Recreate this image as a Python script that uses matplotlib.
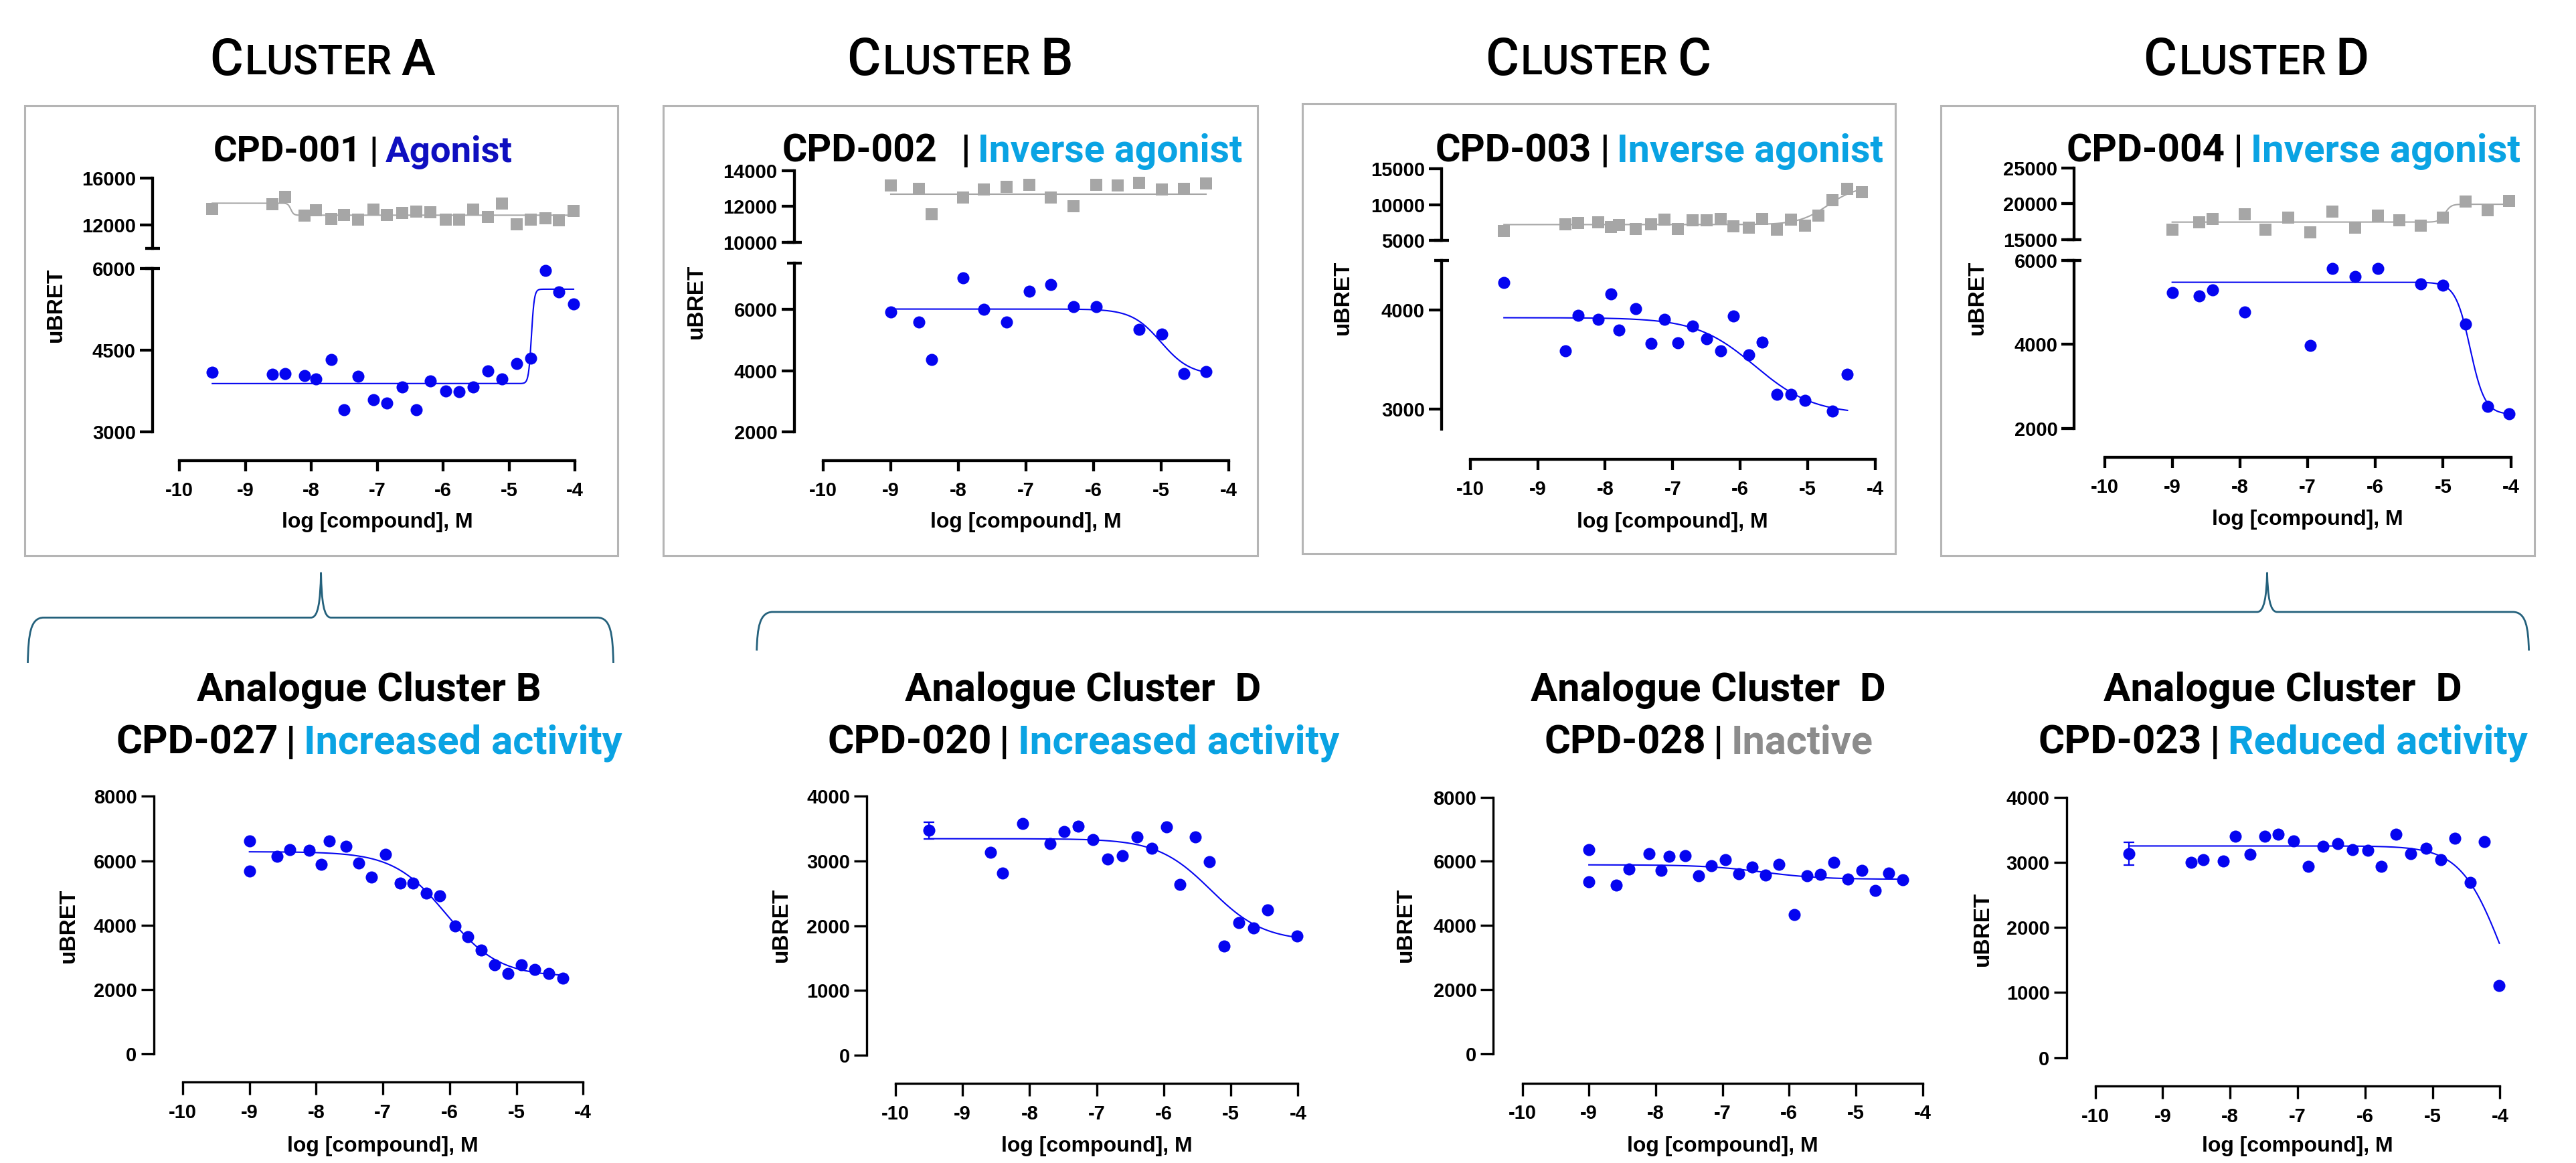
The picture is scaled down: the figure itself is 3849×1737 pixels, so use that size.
import numpy as np
import matplotlib
matplotlib.use("Agg")
import matplotlib.pyplot as plt
from matplotlib.path import Path
from matplotlib.patches import PathPatch, Rectangle

W, H = 3849, 1737
PT = 0.72  # points per pixel at dpi 100

BLUE = "#0505f0"
GRAY = "#a6a6a6"
CYAN = "#0aa3e3"
NAVY = "#0f0fc0"
INACT = "#8c8c8c"
BOX = "#b5b5b5"
BRACE = "#24617c"
HEAD = "Roboto"
AXF = "Liberation Sans"

# ---------------- data (log [compound], uBRET) ----------------
# Cluster A - CPD-001
x_a = [-9.50, -8.59, -8.40, -8.10, -7.93, -7.70, -7.50, -7.29, -7.06, -6.85, -6.62, -6.41,
       -6.19, -5.96, -5.76, -5.54, -5.32, -5.11, -4.88, -4.67, -4.45, -4.24, -4.02]
blue_a = [4100, 4053, 4067, 4033, 3967, 4333, 3400, 4020, 3587, 3533, 3820, 3400,
          3933, 3747, 3733, 3820, 4120, 3967, 4253, 4347, 5967, 5567, 5347]
xg_a = x_a
gray_a = [13385, 13785, 14370, 12770, 13230, 12520, 12860, 12430, 13290, 12860, 13015, 13140,
          13080, 12460, 12460, 13290, 12710, 13815, 12060, 12460, 12550, 12370, 13200]

# Cluster B - CPD-002
x_b = [-9.00, -8.58, -8.40, -7.93, -7.62, -7.29, -6.95, -6.63, -6.30, -5.96, -5.32, -4.99, -4.66, -4.33]
blue_b = [5916, 5593, 4359, 7030, 6000, 5593, 6599, 6814, 6096, 6096, 5341, 5198, 3904, 3976]
xg_b = [-9.00, -8.58, -8.40, -7.93, -7.62, -7.29, -6.95, -6.63, -6.30, -5.96, -5.64, -5.32, -4.99, -4.66, -4.33]
gray_b = [13172, 12970, 11576, 12485, 12929, 13091, 13192, 12485, 12020, 13192, 13172, 13333, 12929, 12990, 13293]

# Cluster C - CPD-003
x_c = [-9.50, -8.585, -8.40, -8.10, -7.92, -7.80, -7.55, -7.32, -7.12, -6.92, -6.71, -6.50,
       -6.29, -6.10, -5.87, -5.67, -5.46, -5.25, -5.04, -4.63, -4.41]
blue_c = [4282, 3593, 3952, 3908, 4165, 3799, 4015, 3663, 3908, 3674, 3842, 3714,
          3593, 3945, 3553, 3681, 3150, 3150, 3088, 2985, 3352]
xg_c = [-9.50, -8.585, -8.40, -8.10, -7.92, -7.80, -7.55, -7.32, -7.12, -6.92, -6.71, -6.50,
        -6.29, -6.10, -5.87, -5.67, -5.46, -5.25, -5.04, -4.84, -4.63, -4.41, -4.20]
gray_c = [6320, 7284, 7386, 7538, 6827, 7132, 6624, 7234, 7893, 6624, 7792, 7792,
          7944, 6980, 6777, 7944, 6523, 7893, 7030, 8503, 10584, 12208, 11700]

# Cluster D - CPD-004
x_d = [-9.00, -8.60, -8.40, -7.93, -6.96, -6.63, -6.30, -5.96, -5.33, -5.00, -4.67, -4.34, -4.02]
blue_d = [5238, 5160, 5290, 4771, 3965, 5810, 5610, 5810, 5446, 5411, 4485, 2519, 2346]
xg_d = [-9.00, -8.60, -8.40, -7.93, -7.62, -7.29, -6.96, -6.63, -6.30, -5.96, -5.65, -5.33,
        -5.00, -4.67, -4.34, -4.02]
gray_d = [16421, 17437, 17843, 18553, 16371, 18046, 15964, 18909, 16624, 18299, 17690, 16929,
          18046, 20330, 19061, 20431]

# Analogues
x_e = [-9.00, -9.00, -8.59, -8.40, -8.10, -7.92, -7.80, -7.55, -7.36, -7.17, -6.96, -6.74,
       -6.55, -6.35, -6.15, -5.92, -5.73, -5.53, -5.33, -5.13, -4.92, -4.72, -4.51, -4.30]
blue_e = [6624, 5682, 6141, 6353, 6329, 5882, 6612, 6447, 5918, 5494, 6200, 5294,
          5294, 5000, 4918, 3965, 3647, 3224, 2765, 2506, 2765, 2612, 2494, 2353]

x_f = [-9.50, -8.58, -8.40, -8.10, -7.70, -7.49, -7.28, -7.06, -6.84, -6.62, -6.40, -6.18,
       -5.96, -5.76, -5.53, -5.32, -5.10, -4.88, -4.66, -4.45, -4.01]
blue_f = [3473, 3133, 2811, 3584, 3268, 3455, 3543, 3327, 3034, 3080, 3368, 3198,
          3531, 2641, 3373, 2987, 1681, 2044, 1962, 2249, 1845]
err_f = [129] + [0] * 20

x_g = [-9.00, -9.00, -8.59, -8.40, -8.10, -7.92, -7.80, -7.56, -7.36, -7.17, -6.95, -6.75,
       -6.55, -6.35, -6.15, -5.92, -5.73, -5.53, -5.33, -5.12, -4.91, -4.71, -4.51, -4.30]
blue_g = [6372, 5357, 5263, 5758, 6230, 5723, 6159, 6171, 5558, 5853, 6053, 5605,
          5829, 5569, 5912, 4330, 5546, 5593, 5959, 5440, 5723, 5086, 5640, 5416]

x_h = [-9.50, -8.58, -8.40, -8.10, -7.92, -7.70, -7.49, -7.29, -7.06, -6.84, -6.62, -6.41,
       -6.19, -5.96, -5.76, -5.54, -5.32, -5.10, -4.88, -4.67, -4.44, -4.23, -4.01]
blue_h = [3128, 2994, 3035, 3023, 3401, 3116, 3401, 3430, 3326, 2936, 3244, 3285,
          3198, 3186, 2936, 3430, 3128, 3215, 3035, 3372, 2686, 3320, 1105]
err_h = [175] + [0] * 22

# fitted curves: (bottom, top, logEC50, hill)
fit_blue = [(3887, 5620, -4.66, 20), (3850, 6010, -5.0, -2.0),
            (2950, 3925, -5.78, -1.0), (2330, 5480, -4.60, -4.0)]
fit_gray = [(12830, 13850, -8.31, -20), (12690, 12690, -6.0, -1.0),
            (7200, 12600, -4.70, 2.0), (17437, 19930, -4.97, 10)]
fit_bot = [(2400, 6280, -6.05, -1.1), (1760, 3345, -5.30, -1.1),
           (5440, 5890, -6.40, -1.0), (0, 3250, -3.96, -1.4)]

# axis ranges and ticks
up_lim = [(10000, 16000), (10000, 14000), (5000, 15000), (15000, 25000)]
lo_lim = [(3000, 6000), (2000, 7500), (2800, 4500), (2000, 6000)]
up_ticks = [[12000, 16000], [10000, 12000, 14000], [5000, 10000, 15000], [15000, 20000, 25000]]
lo_ticks = [[3000, 4500, 6000], [2000, 4000, 6000], [3000, 4000], [2000, 4000, 6000]]
bot_lim = [(0, 8000), (0, 4000), (0, 8000), (0, 4000)]
bot_ticks = [[0, 2000, 4000, 6000, 8000], [0, 1000, 2000, 3000, 4000],
             [0, 2000, 4000, 6000, 8000], [0, 1000, 2000, 3000, 4000]]
x_ticks = [-10, -9, -8, -7, -6, -5, -4]

clusters = ["A", "B", "C", "D"]
top_cpd = ["CPD-001", "CPD-002", "CPD-003", "CPD-004"]
top_kind = ["Agonist", "Inverse agonist", "Inverse agonist", "Inverse agonist"]
bot_title = ["Analogue Cluster B", "Analogue Cluster  D", "Analogue Cluster  D", "Analogue Cluster  D"]
bot_cpd = ["CPD-027", "CPD-020", "CPD-028", "CPD-023"]
bot_kind = ["Increased activity", "Increased activity", "Inactive", "Reduced activity"]
top_kind_col = [NAVY, CYAN, CYAN, CYAN]
bot_kind_col = [CYAN, CYAN, INACT, CYAN]

top_x = [x_a, x_b, x_c, x_d]
top_blue = [blue_a, blue_b, blue_c, blue_d]
top_xg = [xg_a, xg_b, xg_c, xg_d]
top_gray = [gray_a, gray_b, gray_c, gray_d]
bot_x = [x_e, x_f, x_g, x_h]
bot_blue = [blue_e, blue_f, blue_g, blue_h]
bot_err = [None, err_f, None, err_h]

# ---------------- layout (figure pixels, y down) ----------------
top_layout = [
    dict(yx=228.0, x10=268.0, x4=859.0, xy=688.0, up=(371.2, 265.6), lo=(645.0, 401.0),
         box=(36.7, 158, 923, 830), title=(481.6, 312), sub=(542, 434, 0.22), ylab=(83, 455)),
    dict(yx=1186.6, x10=1230.0, x4=1835.7, xy=688.0, up=(362.0, 254.7), lo=(645.0, 393.4),
         box=(990.6, 158, 1878.5, 830), title=(1434, 312), sub=(1512, 666, 0.6), ylab=(1040, 450)),
    dict(yx=2154.0, x10=2196.8, x4=2801.8, xy=685.6, up=(359.0, 252.0), lo=(641.0, 389.4),
         box=(1945.7, 154.5, 2832.4, 826.5), title=(2387.5, 312), sub=(2479, 649, 0.22), ylab=(2006, 444)),
    dict(yx=3099.4, x10=3144.5, x4=3751.5, xy=683.0, up=(357.7, 251.0), lo=(639.6, 389.0),
         box=(2899.8, 158, 3787, 830), title=(3370.7, 312), sub=(3426.6, 658, 0.22), ylab=(2954, 444)),
]
bot_layout = [
    dict(yx=229.6, x10=273.0, x4=871.2, xy=1616.4, py=(1574.0, 1189.4),
         title=(550.7, 476), sub=(551, 700), ylab=(102, 1382)),
    dict(yx=1295.3, x10=1338.0, x4=1939.4, xy=1618.0, py=(1575.7, 1189.4),
         title=(1618, 492), sub=(1618.6, 708), ylab=(1167, 1381)),
    dict(yx=2231.4, x10=2274.5, x4=2872.5, xy=1617.5, py=(1574.0, 1190.5),
         title=(2552.5, 491), sub=(2552.7, 455), ylab=(2100, 1381)),
    dict(yx=3087.6, x10=3130.6, x4=3735.5, xy=1622.0, py=(1579.6, 1190.5),
         title=(3411.3, 496), sub=(3411.5, 677), ylab=(2962, 1387)),
]

plt.rcParams["font.family"] = AXF
plt.rcParams["font.weight"] = "bold"

fig = plt.figure(figsize=(W / 100, H / 100), dpi=100, facecolor="white")
bg = fig.add_axes([0, 0, 1, 1], zorder=-1)
bg.set_xlim(0, W)
bg.set_ylim(H, 0)
bg.axis("off")
rend = fig.canvas.get_renderer()


def logistic(p, x):
    bottom, top, logec, hill = p
    return bottom + (top - bottom) / (1 + 10 ** ((logec - x) * hill))


def rich(cx, base_y, pieces, width, grow=1.08):
    # multi-colour heading, scaled to the reference width (a little wider to keep height)
    ref = 40.0
    ws, gaps = [], []
    for s, rel, col, gap, wt in pieces:
        t = bg.text(0, 0, s, fontsize=ref * rel, family=HEAD, weight=wt)
        ws.append(t.get_window_extent(rend).width)
        gaps.append(gap * ref * rel / PT)
        t.remove()
    scale = width * grow / (sum(ws) + sum(gaps))
    x = cx - width * grow / 2
    for (s, rel, col, gap, wt), w, g in zip(pieces, ws, gaps):
        bg.text(x, base_y, s, fontsize=ref * rel * scale, family=HEAD, weight=wt,
                color=col, ha="left", va="baseline")
        x += (w + g) * scale


def add_ax(x10, x4, pbot, ptop):
    ax = fig.add_axes([x10 / W, 1 - pbot / H, (x4 - x10) / W, (pbot - ptop) / H])
    ax.patch.set_visible(False)
    ax.spines["top"].set_visible(False)
    ax.spines["right"].set_visible(False)
    ax.set_xlim(-10, -4)
    return ax


def style_y(ax, L, lw, ylen, lim, ticks):
    ax.set_ylim(*lim)
    ax.set_yticks(ticks)
    ax.spines["left"].set_position(("outward", (L["x10"] - L["yx"]) * PT))
    ax.spines["left"].set_linewidth(lw)
    ax.tick_params(axis="y", direction="out", length=ylen, width=lw, pad=4, labelsize=21)


def style_x(ax, L, pbot, lw, xlen, pad):
    ax.set_xticks(x_ticks)
    ax.set_xticklabels([str(t) for t in x_ticks])
    ax.spines["bottom"].set_position(("outward", (L["xy"] - pbot) * PT))
    ax.spines["bottom"].set_linewidth(lw)
    ax.tick_params(axis="x", direction="out", length=xlen, width=lw, pad=pad, labelsize=21)


def no_x(ax):
    ax.spines["bottom"].set_visible(False)
    ax.tick_params(axis="x", bottom=False, labelbottom=False)


def curve(ax, p, xs, color):
    xx = np.linspace(min(xs), max(xs), 600)
    ax.plot(xx, logistic(p, xx), color=color, lw=1.5, clip_on=False, zorder=2)


def brace(x0, x1, xm, yl, ye, yt):
    verts = [(x0, ye), (x0 + 1, yl + 24), (x0 + 4, yl), (x0 + 24, yl),
             (xm - 15, yl),
             (xm - 4, yl), (xm - 1, yl - 24), (xm, yt),
             (xm + 1, yl - 24), (xm + 4, yl), (xm + 15, yl),
             (x1 - 24, yl),
             (x1 - 4, yl), (x1 - 1, yl + 24), (x1, ye)]
    C, L_ = Path.CURVE4, Path.LINETO
    codes = [Path.MOVETO, C, C, C, L_, C, C, C, C, C, C, L_, C, C, C]
    bg.add_patch(PathPatch(Path(verts, codes), fill=False, edgecolor=BRACE, lw=2.0,
                           capstyle="butt", joinstyle="round"))


# ---------------- top row ----------------
for i, L in enumerate(top_layout):
    x0, y0, x1, y1 = L["box"]
    bg.add_patch(Rectangle((x0, y0), x1 - x0, y1 - y0, fill=False, edgecolor=BOX, lw=2.2))

    tx, tw = L["title"]
    rich(tx, 112, [("C", 1, "black", 0.04, "medium"), ("LUSTER", 0.8, "black", 0.22, "medium"),
                   (clusters[i], 1, "black", 0, "medium")], tw)
    sx, sw, g1 = L["sub"]
    rich(sx, 242, [(top_cpd[i], 1, "black", g1, "bold"), ("|", 1, "black", 0.2, "bold"),
                   (top_kind[i], 1, top_kind_col[i], 0, "bold")], sw, grow=1.03)

    lw, ylen = 3.1, 14
    up = add_ax(L["x10"], L["x4"], L["up"][0], L["up"][1])
    style_y(up, L, lw, ylen, up_lim[i], up_ticks[i])
    no_x(up)
    lo = add_ax(L["x10"], L["x4"], L["lo"][0], L["lo"][1])
    style_y(lo, L, lw, ylen, lo_lim[i], lo_ticks[i])
    style_x(lo, L, L["lo"][0], lw, 11.5, 11)

    # break caps
    for yy in (L["up"][0], L["lo"][1]):
        bg.plot([L["yx"] - 11, L["yx"] + 11], [yy, yy], color="black", lw=lw,
                solid_capstyle="butt")

    curve(up, fit_gray[i], top_xg[i], GRAY)
    up.plot(top_xg[i], top_gray[i], ls="none", marker="s", ms=12.5, color=GRAY, mew=0,
            clip_on=False, zorder=3)
    curve(lo, fit_blue[i], top_x[i], BLUE)
    lo.plot(top_x[i], top_blue[i], ls="none", marker="o", ms=13, color=BLUE, mew=0,
            clip_on=False, zorder=3)

    bg.text(L["ylab"][0], L["ylab"][1], "uBRET", rotation=90, ha="center", va="center",
            fontsize=24, fontweight="bold")
    bg.text((L["x10"] + L["x4"]) / 2, 780 if i < 3 else 776, "log [compound], M",
            ha="center", va="center", fontsize=23, fontweight="bold")

# ---------------- bottom row ----------------
for i, L in enumerate(bot_layout):
    tx, tw = L["title"]
    rich(tx, 1047, [(bot_title[i], 1, "black", 0, "bold")], tw)
    sx, sw = L["sub"]
    rich(sx, 1126, [(bot_cpd[i], 1, "black", 0.2, "bold"), ("|", 1, "black", 0.2, "bold"),
                    (bot_kind[i], 1, bot_kind_col[i], 0, "bold")], sw)

    lw = 2.4
    ax = add_ax(L["x10"], L["x4"], L["py"][0], L["py"][1])
    style_y(ax, L, lw, 14, bot_lim[i], bot_ticks[i])
    style_x(ax, L, L["py"][0], lw, 14, 9)

    curve(ax, fit_bot[i], bot_x[i], BLUE)
    if bot_err[i] is not None:
        ax.errorbar(bot_x[i][:1], bot_blue[i][:1], yerr=bot_err[i][:1], fmt="none",
                    ecolor=BLUE, elinewidth=1.6, capsize=6, capthick=1.6, clip_on=False, zorder=3)
    ax.plot(bot_x[i], bot_blue[i], ls="none", marker="o", ms=13, color=BLUE, mew=0,
            clip_on=False, zorder=4)

    bg.text(L["ylab"][0], L["ylab"][1], "uBRET", rotation=90, ha="center", va="center",
            fontsize=24, fontweight="bold")
    bg.text((L["x10"] + L["x4"]) / 2, 1712, "log [compound], M",
            ha="center", va="center", fontsize=23, fontweight="bold")

# braces linking clusters to their analogues
brace(41.5, 916.5, 479.6, 922.4, 990.0, 855.7)
brace(1130.7, 3778.6, 3387.5, 914.0, 971.6, 855.7)

fig.savefig("out.png", dpi=100, facecolor="white")
